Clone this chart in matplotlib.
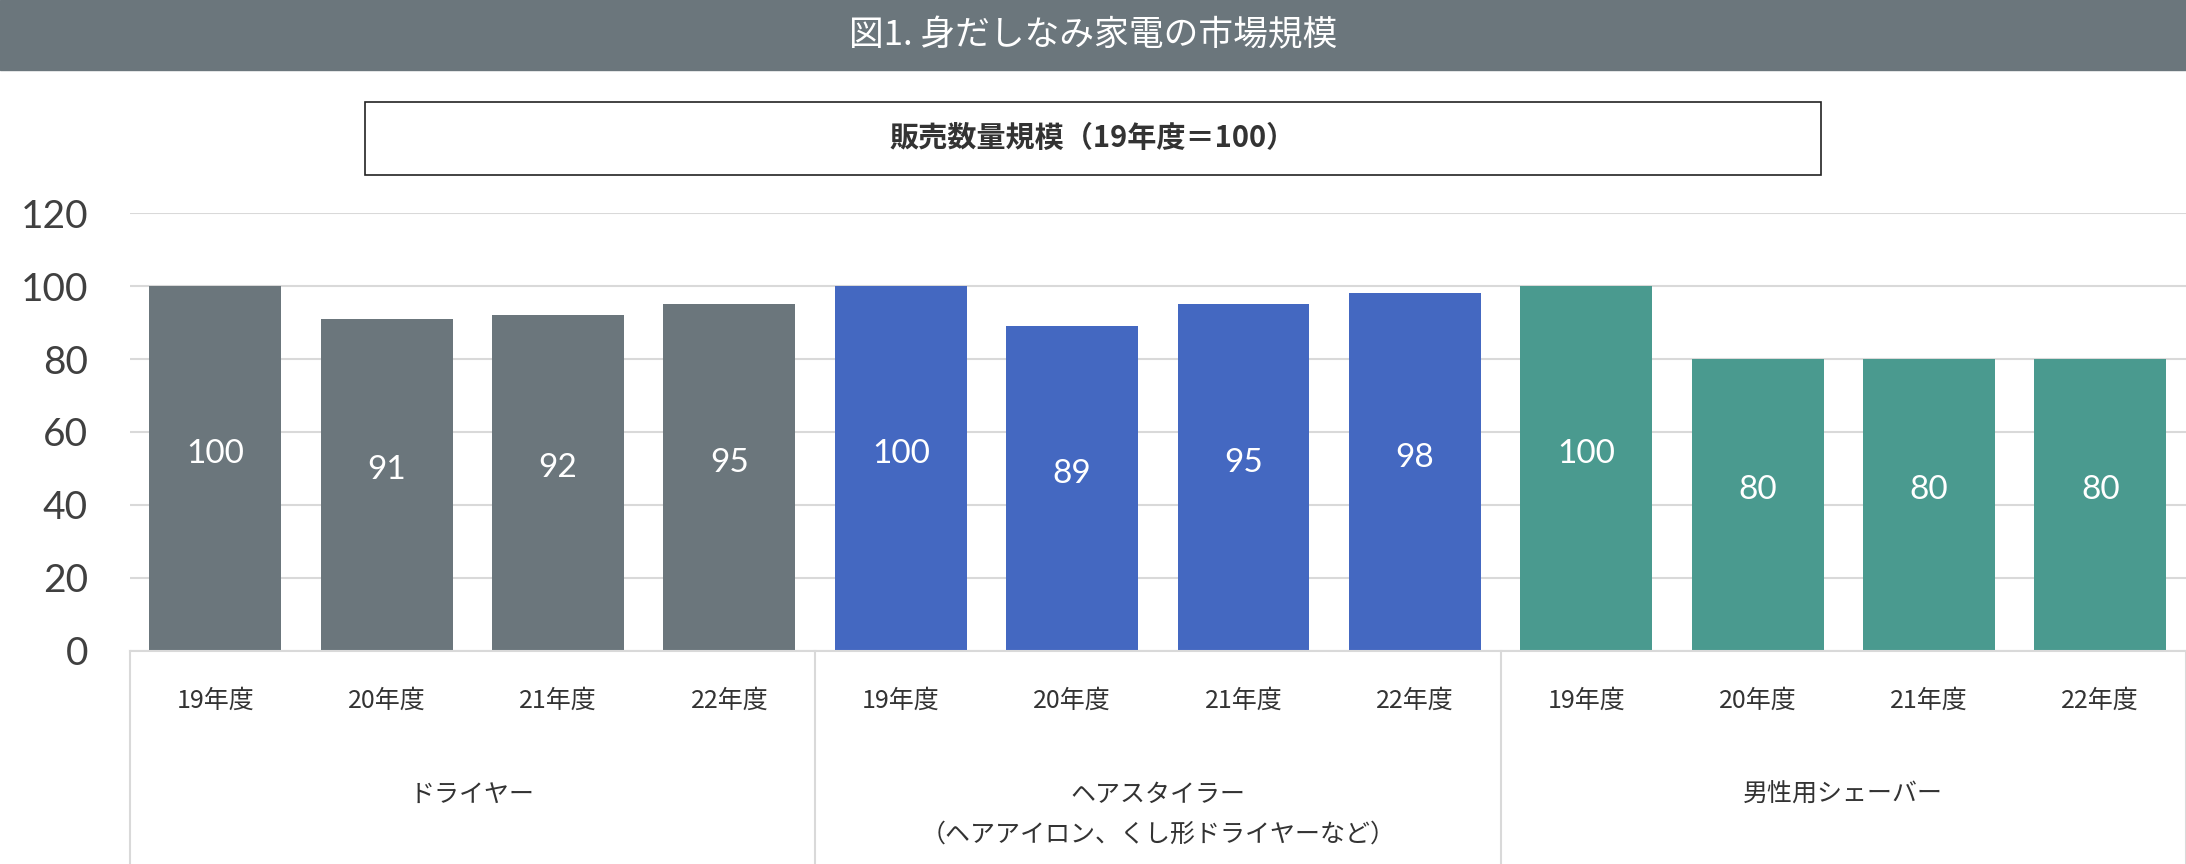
import matplotlib.pyplot as plt
from matplotlib.patches import Rectangle

plt.rcParams['font.family'] = ['Lato', 'Noto Sans CJK JP', 'DejaVu Sans']

groups = ["ドライヤー", "ヘアスタイラー\n（ヘアアイロン、くし形ドライヤーなど）", "男性用シェーバー"]
years = ["19年度", "20年度", "21年度", "22年度"]
dryer = [100, 91, 92, 95]
styler = [100, 89, 95, 98]
shaver = [100, 80, 80, 80]
colors = ["#6b767c", "#4468c1", "#4a9a8f"]

fig = plt.figure(figsize=(21.86, 8.64), dpi=100)
fig.patches.append(Rectangle((0, 0.919), 1, 0.081, transform=fig.transFigure,
                             color="#6b767c", zorder=0))
fig.text(0.5, 0.958, "図1. 身だしなみ家電の市場規模", color="white", fontsize=25,
         ha="center", va="center", family=['Noto Sans CJK JP'])
fig.patches.append(Rectangle((0.167, 0.798), 0.666, 0.084, transform=fig.transFigure,
                             fill=False, edgecolor="#222222", lw=1.2))
fig.text(0.5, 0.840, "販売数量規模（19年度＝100）", color="#333333", fontsize=21,
         ha="center", va="center", fontweight="bold", family=['Noto Sans CJK JP'])

ax = fig.add_axes([0.0593, 0.2468, 0.9407, 0.5064])
for g, vals in enumerate([dryer, styler, shaver]):
    for i, v in enumerate(vals):
        x = g * 4 + i
        ax.bar(x, v, width=0.77, color=colors[g], zorder=2)
        ax.text(x, v / 2 + 4, str(v), color="white", fontsize=24, ha="center",
                va="center", family=['Lato'])
        ax.text(x, -0.115, years[i], transform=ax.get_xaxis_transform(), ha="center",
                va="center", fontsize=18, color="#333333", family=['Noto Sans CJK JP'])
    ax.text(g * 4 + 1.5, -0.30, groups[g], transform=ax.get_xaxis_transform(), ha="center",
            va="top", fontsize=18, color="#333333", linespacing=1.7,
            family=['Noto Sans CJK JP'])
for sx in [-0.5, 3.5, 7.5, 11.5]:
    ax.plot([sx, sx], [0, -0.49], transform=ax.get_xaxis_transform(), color="#d9d9d9",
            lw=1.5, clip_on=False)

ax.set_xlim(-0.5, 11.5)
ax.set_ylim(0, 120)
ax.set_yticks(range(0, 121, 20))
ax.tick_params(axis="y", labelsize=28, labelcolor="#404040", length=0, pad=30)
ax.set_xticks([])
ax.grid(axis="y", color="#d9d9d9", lw=1.5, zorder=0)
for s in ["top", "right", "left"]:
    ax.spines[s].set_visible(False)
ax.spines["bottom"].set_color("#d9d9d9")
ax.spines["bottom"].set_linewidth(1.5)

fig.savefig("out.png", dpi=100)
